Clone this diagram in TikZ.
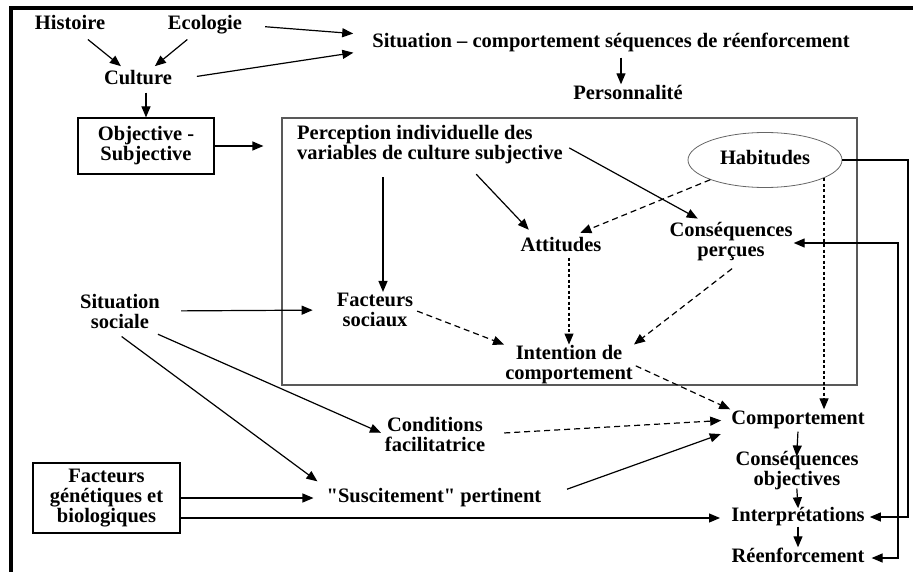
\documentclass[tikz,border=0pt]{standalone}
\usepackage{fontspec}
\setmainfont{Liberation Serif}
\newfontfamily\qfont{Liberation Serif}
\usetikzlibrary{arrows.meta,shapes.geometric}

\begin{document}
\begin{tikzpicture}[x=1pt, y=-1pt,
    lbl/.style={font=\bfseries\fontsize{20.5}{20}\selectfont, align=center, inner sep=1pt},
    one/.style={lbl, text height=14pt, text depth=5pt},
    boxed/.style={lbl, draw, line width=1.2pt},
    arr/.style={-{Triangle[length=11pt, width=9pt]}, line width=1.2pt},
    darr/.style={arr, dash pattern=on 6pt off 4pt},
    ddarr/.style={arr, dash pattern=on 3pt off 2.5pt}]
    % frame
    \useasboundingbox (0, 0) rectangle (913, 572);
    \draw[line width=3.5pt] (11, 572) -- (11, 8) -- (913, 8);

    % culture
    \node[one](hist) at (70, 25){Histoire};
    \node[one](eco) at (205, 25){Ecologie};
    \node[one](cult) at (138, 80){Culture};
    \draw[arr, shorten <=6pt, shorten >=5pt] (hist) -- (cult);
    \draw[arr, shorten <=6pt, shorten >=5pt] (eco) -- (cult);
    % situation
    \node[one](sit) at (611, 43){Situation – comportement séquences de réenforcement};
    \node[one](pers) at (628, 95){Personnalité};
    \draw[arr, shorten <=22pt, shorten >=18pt] (eco.east) -- ([yshift=8pt]sit.west);
    \draw[arr, shorten <=24pt, shorten >=18pt] (cult.east) -- ([yshift=-7pt]sit.west);
    \draw[arr, shorten <=4pt] ([xshift=10pt]sit.south) -- ([xshift=-7pt]pers.north);
    % objective
    \node[boxed, minimum width=136pt, minimum height=56pt](obj) at (146, 146){Objective -\\Subjective};
    \draw[arr, shorten <=2pt] ([xshift=8pt]cult.south) -- (obj.north);

    % the box
    \node[draw=black!65, line width=1.2pt, minimum width=575pt, minimum height=267pt](pbox) at (569.5, 251.5){};
    \draw[arr, shorten >=18pt] (obj.east) -- (obj.east -| pbox.west);
    \node[lbl, align=left, anchor=west](perc) at (296, 145){Perception individuelle des\\variables de culture subjective};
    \node[one, ellipse, draw=black!60, line width=0.8pt, minimum width=154pt, minimum height=55pt](hab) at (765, 160){Habitudes};
    \node[one](att) at (561, 247){Attitudes};
    \node[lbl](consp) at (731, 242){Conséquences\\perçues};
    \node[lbl](facsoc) at (375, 310){Facteurs\\sociaux};
    \node[lbl](intent) at (569, 365){Intention de\\comportement};
    \draw[arr, shorten <=12pt] ([xshift=8pt]facsoc.north |- perc.south) -- ([xshift=8pt]facsoc.north);
    \draw[arr, shorten <=12pt, shorten >=9pt] ([xshift=38pt]perc.south) -- ([xshift=-26pt]att.north);
    \draw[arr, shorten <=6pt, shorten >=6pt] (perc.east) -- ([xshift=-28pt]consp.north);
    \draw[darr, shorten >=9pt] (hab.south west) -- ([xshift=11pt]att.north);
    \draw[darr, shorten <=3pt] (facsoc.east) -- (intent.north west);
    \draw[ddarr] (att.south -| intent.north) -- (intent.north);
    \draw[darr, shorten <=10pt] ([xshift=9pt]consp.south) -- (intent.north east);

    % social
    \node[lbl](sitsoc) at (120, 311){Situation\\sociale};
    \node[lbl](cond) at (435, 434){Conditions\\facilitatrice};
    \node[one](susc) at (434, 498){{\qfont"}Suscitement{\qfont"} pertinent};
    \node[boxed, minimum width=147pt, minimum height=70pt](gen) at (106.5, 498){Facteurs\\génétiques et\\biologiques};
    \draw[arr, shorten <=20pt, shorten >=23pt] (sitsoc.east) -- (facsoc.west);
    \draw[arr, shorten <=12pt, shorten >=3pt] ([xshift=27pt]sitsoc.south) -- (cond.west);
    \draw[arr, shorten <=12pt, shorten >=10pt] ([xshift=-8pt]sitsoc.south) -- (susc.north west);
    \draw[arr, shorten >=12pt] (gen.east) -- (susc.west);
    \draw[arr, shorten >=11pt] (gen.east |- 0, 518) -- (gen.east |- 0, 518 -| 731, 0);

    % behaviour chain
    \node[one](comp) at (798, 420){Comportement};
    \node[lbl](conso) at (797, 471){Conséquences\\objectives};
    \node[one](interp) at (798, 517){Interprétations};
    \node[one](reenf) at (798, 558){Réenforcement};
    \draw[arr, shorten <=1pt, shorten >=-6pt] (comp.south) -- (conso.north);
    \draw[arr, shorten <=-3pt, shorten >=-2pt] (conso.south) -- (interp.north);
    \draw[arr, shorten <=-1pt] (interp.south) -- (reenf.north);
    \draw[darr, shorten <=2pt] (intent.east) -- (comp.north west);
    \draw[darr, shorten <=18pt, shorten >=9pt] (cond.east) -- (comp.west);
    \draw[arr, shorten <=26pt, shorten >=10pt] (susc.east) -- (comp.south west);
    \draw[ddarr] (hab.-17) -- (hab.-17 |- comp.north);

    % feedback
    \coordinate (hr) at (908, 160);
    \coordinate (cr) at (898, 243);
    \draw[arr, shorten >=4pt] (hab.east) -- (hr) |- (interp.east);
    \draw[{Triangle[length=11pt, width=9pt]}-{Triangle[length=11pt, width=9pt]}, line width=1.2pt, shorten >=6pt] (consp.east |- cr) -- (cr) |- (reenf.east);
\end{tikzpicture}
\end{document}
